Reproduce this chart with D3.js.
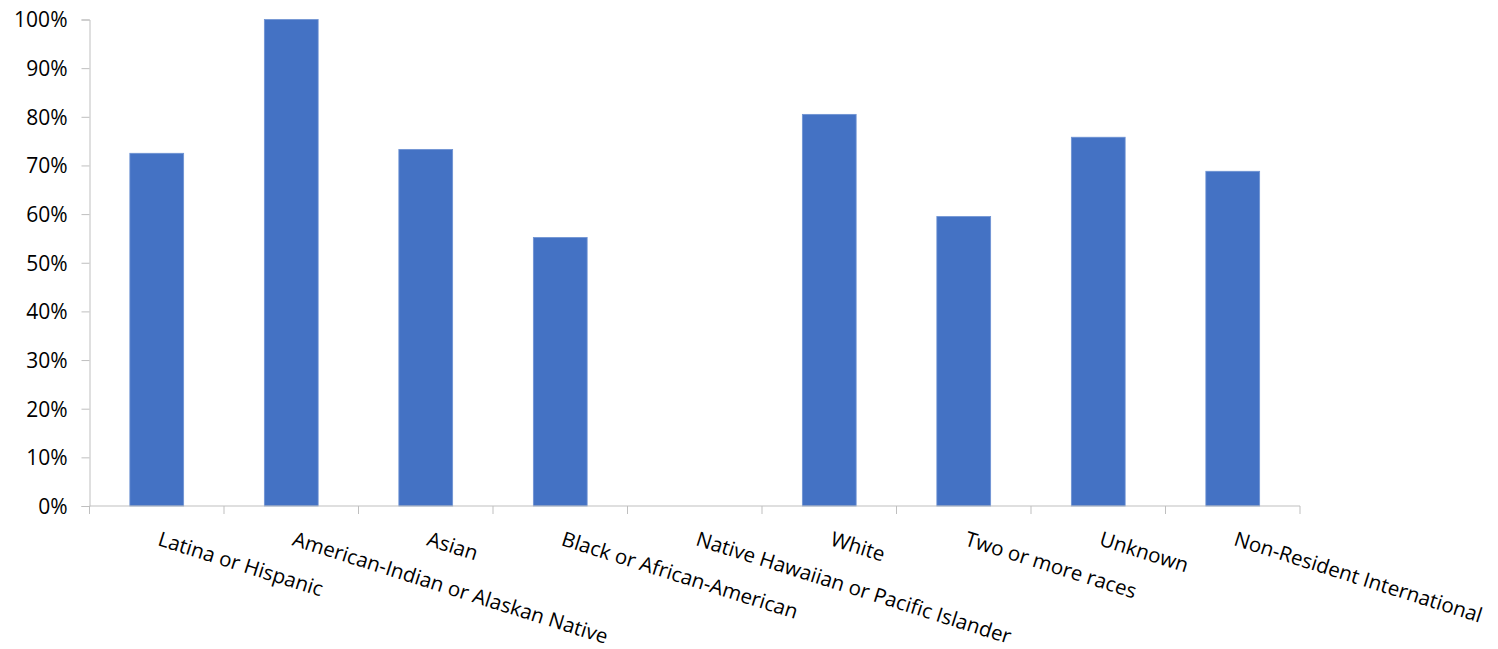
<!DOCTYPE html>
<html>
<head>
<meta charset="utf-8">
<script src="https://cdn.jsdelivr.net/npm/d3@7"></script>
<style>
  body { margin: 0; background: #fff; }
  text { font-family: "Open Sans", sans-serif; fill: #000; }
</style>
</head>
<body>
<div id="chart"></div>
<script>
const categories = ["Latina or Hispanic", "American-Indian or Alaskan Native", "Asian",
  "Black or African-American", "Native Hawaiian or Pacific Islander", "White",
  "Two or more races", "Unknown", "Non-Resident International"];
const values = [0.725, 1.0, 0.733, 0.552, 0, 0.805, 0.595, 0.758, 0.688];
const yTicks = [0, 0.1, 0.2, 0.3, 0.4, 0.5, 0.6, 0.7, 0.8, 0.9, 1.0];

// dimensions
var margin = { top: 19.5, right: 198, bottom: 143, left: 89.5 },
  width = 1498 - margin.left - margin.right,
  height = 649 - margin.top - margin.bottom;

var svg = d3.select("#chart").append("svg")
  .attr("width", 1498)
  .attr("height", 649)
  .append("g")
  .attr("transform", "translate(" + margin.left + "," + margin.top + ")");

var x = d3.scaleBand().domain(categories).range([0, width])
  .paddingInner(0.6).paddingOuter(0.3);
var y = d3.scaleLinear().domain([0, 1]).range([height, 0]);

// bars
svg.selectAll("rect.bar")
  .data(values)
  .enter().append("rect")
  .attr("class", "bar")
  .attr("x", (d, i) => x(categories[i]))
  .attr("width", x.bandwidth())
  .attr("y", d => y(d))
  .attr("height", d => height - y(d))
  .attr("fill", "#4472c4")
  .attr("stroke", d => d > 0 ? "#6f93d3" : "none")
  .attr("stroke-width", 0.8);

// y axis
var yAxis = svg.append("g")
  .call(d3.axisLeft(y).tickValues(yTicks).tickFormat(d3.format(".0%")).tickSize(8).tickPadding(14));
yAxis.select(".domain").attr("stroke", "#bfbfbf");
yAxis.selectAll(".tick line").attr("stroke", "#bfbfbf");
yAxis.selectAll(".tick text").style("font-size", "21px").attr("dy", "0.35em");

// x axis: ticks at band boundaries
var step = x.step();
var bounds = d3.range(categories.length + 1).map(i => i * step);
var xg = svg.append("g").attr("transform", "translate(0," + height + ")");
xg.append("line").attr("x1", 0).attr("x2", width).attr("stroke", "#bfbfbf");
xg.selectAll("line.tk").data(bounds).enter().append("line")
  .attr("class", "tk")
  .attr("x1", d => d).attr("x2", d => d)
  .attr("y1", 0).attr("y2", 8)
  .attr("stroke", "#bfbfbf");

// rotated category labels
xg.selectAll("text.cat").data(categories).enter().append("text")
  .attr("class", "cat")
  .attr("transform", d => "translate(" + (x(d) + x.bandwidth() / 2) + ",39) rotate(17.5)")
  .style("font-size", "20.5px")
  .style("text-anchor", "start")
  .text(d => d);
</script>
</body>
</html>
